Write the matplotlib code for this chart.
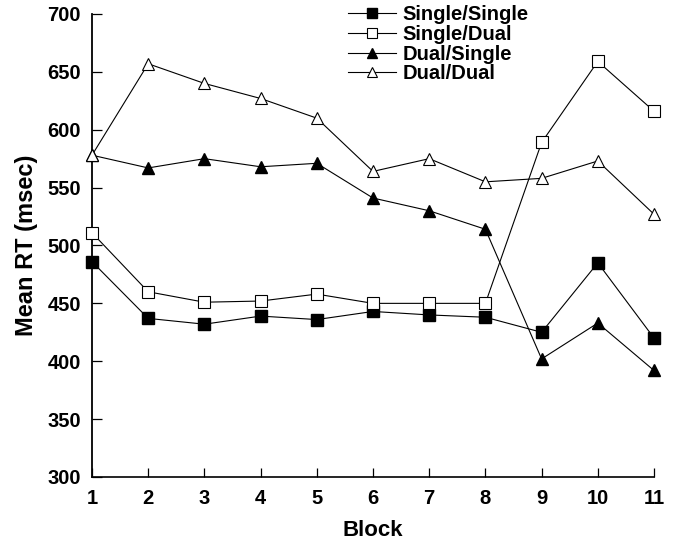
import matplotlib
matplotlib.use("Agg")
import matplotlib.pyplot as plt

blocks = [1, 2, 3, 4, 5, 6, 7, 8, 9, 10, 11]
single_single = [486, 437, 432, 439, 436, 443, 440, 438, 425, 485, 420]
single_dual = [511, 460, 451, 452, 458, 450, 450, 450, 589, 659, 616]
dual_single = [578, 567, 575, 568, 571, 541, 530, 514, 402, 433, 392]
dual_dual = [578, 657, 640, 627, 610, 564, 575, 555, 558, 573, 527]
yticks = [300, 350, 400, 450, 500, 550, 600, 650, 700]

plt.rcParams['font.family'] = ['Liberation Sans', 'DejaVu Sans']
plt.rcParams['font.weight'] = 'bold'

fig = plt.figure(figsize=(6.75, 5.4), dpi=100)
ax = fig.add_axes([0.1363, 0.1167, 0.8326, 0.8574])

kw = dict(color='black', lw=0.8, clip_on=False, zorder=3)
ax.plot(blocks, single_single, marker='s', ms=8.5, mfc='black', mec='black', label='Single/Single', **kw)
ax.plot(blocks, single_dual, marker='s', ms=8.5, mfc='white', mec='black', mew=0.8, label='Single/Dual', **kw)
ax.plot(blocks, dual_single, marker='^', ms=9, mfc='black', mec='black', label='Dual/Single', **kw)
ax.plot(blocks, dual_dual, marker='^', ms=9, mfc='white', mec='black', mew=0.8, label='Dual/Dual', **kw)

ax.set_xlim(1, 11)
ax.set_ylim(300, 700)
ax.set_xticks(blocks)
ax.set_yticks(yticks)
ax.spines['top'].set_visible(False)
ax.spines['right'].set_visible(False)
ax.spines['left'].set_linewidth(1.3)
ax.spines['bottom'].set_linewidth(1.2)
ax.tick_params(axis='y', direction='in', length=7, width=0.9, labelsize=14.5, pad=8)
ax.tick_params(axis='x', direction='in', length=6.5, width=0.9, labelsize=14.5, pad=9)
for lab in ax.get_xticklabels() + ax.get_yticklabels():
    lab.set_fontweight('bold')

ax.set_xlabel('Block', fontsize=16, fontweight='bold', labelpad=8)
ax.set_ylabel('Mean RT (msec)', fontsize=17, fontweight='bold', labelpad=7)

leg = ax.legend(loc='upper left', bbox_to_anchor=(0.441, 1.036), frameon=False,
                handlelength=2.4, handletextpad=0.3, labelspacing=0.03,
                markerscale=0.8, borderaxespad=0,
                prop={'weight': 'bold', 'size': 14.5})

fig.savefig('out.png', dpi=100)
